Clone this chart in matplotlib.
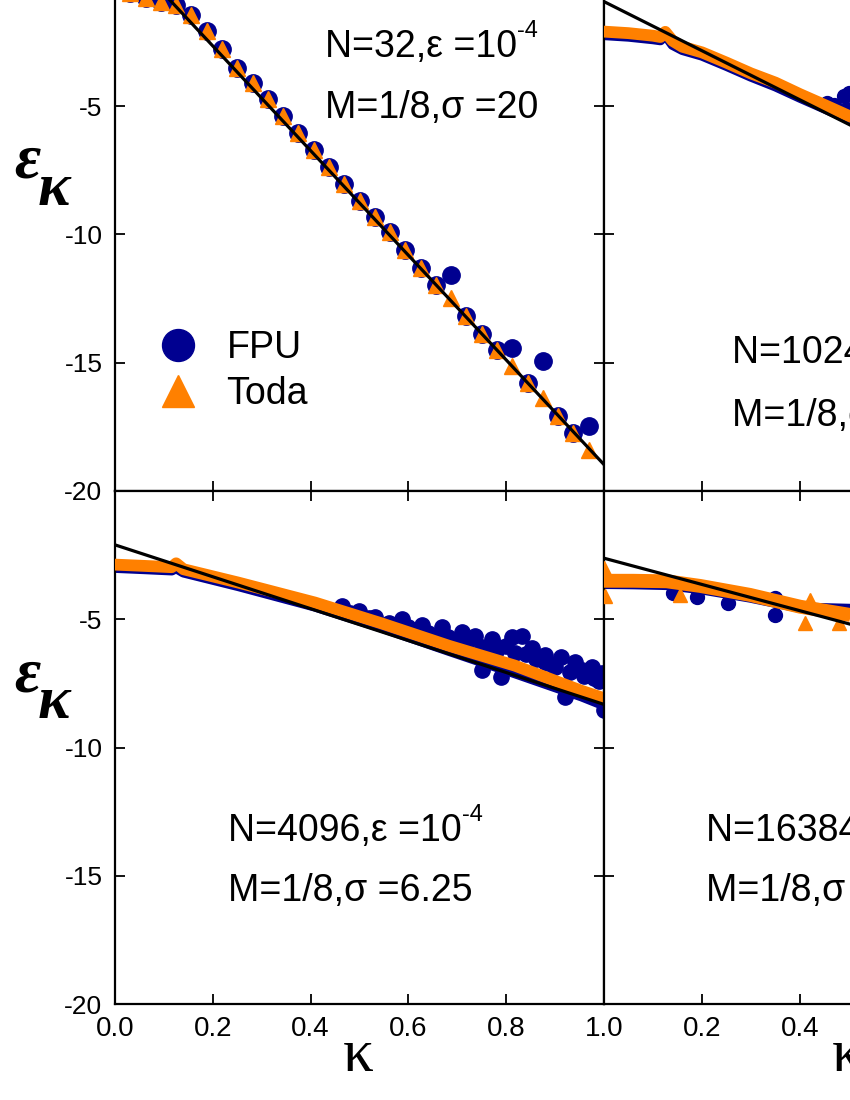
import matplotlib.pyplot as plt
from matplotlib.lines import Line2D

plt.rcParams['font.family'] = ['Liberation Sans', 'DejaVu Sans']
plt.rcParams['axes.unicode_minus'] = False

navy = '#000090'
orange = '#FF8000'

# ---- N=32 panel (modes k/32) ----
k32 = [i / 32 for i in range(1, 32)]
toda32 = [-0.6, -0.78, -0.92, -1.05, -1.44, -2.05, -2.77, -3.5, -4.08, -4.72,
          -5.37, -6.04, -6.7, -7.35, -8.02, -8.68, -9.33, -9.9, -10.6, -11.3,
          -11.95, -12.48, -13.18, -13.88, -14.52, -15.13, -15.8, -16.38, -17.06,
          -17.72, -18.4]
fpu32 = [-0.6, -0.78, -0.92, -1.05, -1.44, -2.05, -2.77, -3.5, -4.08, -4.72,
         -5.37, -6.04, -6.7, -7.35, -8.02, -8.68, -9.33, -9.9, -10.6, -11.3,
         -11.95, -11.58, -13.18, -13.88, -14.52, -14.43, -15.8, -14.93, -17.06,
         -17.72, -17.47]
fit32 = [1.43, -18.97]

# ---- N=1024 panel ----
k1024 = [0.0, 0.05, 0.10, 0.115, 0.125, 0.14, 0.16, 0.20, 0.25, 0.30, 0.35,
         0.40, 0.45, 0.50, 0.52]
toda1024 = [-2.09, -2.15, -2.25, -2.3, -2.1, -2.45, -2.68, -2.9, -3.3, -3.72,
            -4.08, -4.53, -4.95, -5.38, -5.55]
fpu1024 = [-2.22, -2.28, -2.38, -2.42, -2.2, -2.6, -2.8, -3.02, -3.42, -3.84,
           -4.22, -4.66, -5.08, -5.5, -5.67]
fpu1024_k_out = [0.455, 0.47, 0.49, 0.495, 0.50]
fpu1024_v_out = [-4.87, -4.95, -4.6, -5.1, -4.5]
fit1024 = [-0.92, -10.5]

# ---- N=4096 panel ----
k4096 = [0.0, 0.06, 0.116, 0.125, 0.14, 0.252, 0.409, 0.545, 0.682, 0.818,
         0.954, 1.0]
toda4096 = [-2.87, -2.92, -2.97, -2.82, -3.05, -3.57, -4.35, -5.16, -6.03,
            -6.81, -7.79, -8.08]
fpu4096 = [-2.99, -3.04, -3.09, -3.0, -3.17, -3.7, -4.5, -5.32, -6.22, -7.1,
           -8.0, -8.35]
fpu4096_k_out = [0.4635, 0.498, 0.532, 0.586, 0.613, 0.627, 0.668, 0.682,
                 0.709, 0.736, 0.75, 0.77, 0.784, 0.811, 0.818, 0.832, 0.852,
                 0.879, 0.886, 0.913, 0.941, 0.954, 0.975, 0.995, 0.75, 0.79,
                 0.92, 1.0,
                 0.48, 0.52, 0.56, 0.60, 0.64, 0.66, 0.70, 0.72, 0.76, 0.78,
                 0.80, 0.84, 0.86, 0.88, 0.90, 0.93, 0.96, 0.98, 0.99, 0.97]
fpu4096_v_out = [-4.48, -4.67, -4.9, -5.0, -5.42, -5.22, -5.31, -5.68, -5.48,
                 -5.65, -6.07, -5.78, -6.07, -5.7, -6.33, -5.65, -6.13, -6.39,
                 -6.72, -6.46, -6.65, -6.98, -6.85, -7.11, -6.98, -7.24, -8.02,
                 -8.54,
                 -4.75, -4.95, -5.15, -5.3, -5.55, -5.6, -5.8, -5.9, -6.15,
                 -6.25, -6.05, -6.35, -6.55, -6.65, -6.85, -7.05, -7.2, -7.3,
                 -7.4, -7.0]
fit4096 = [-2.1, -8.32]

# ---- N=16384 panel ----
k16384 = [0.0, 0.012, 0.06, 0.128, 0.196, 0.298, 0.40, 0.502, 0.52]
toda16384 = [-3.5, -3.5, -3.5, -3.52, -3.7, -4.05, -4.51, -4.83, -4.92]
fpu16384 = [-3.62, -3.62, -3.63, -3.66, -3.82, -4.15, -4.55, -4.6, -4.7]
toda16384_k_out = [0.0, 0.003, 0.155, 0.41, 0.42, 0.48]
toda16384_v_out = [-3.0, -4.1, -4.05, -5.16, -4.25, -5.16]
fpu16384_k_out = [0.141, 0.189, 0.254, 0.349, 0.349]
fpu16384_v_out = [-3.99, -4.12, -4.35, -4.18, -4.83]
fit16384 = [-2.62, -7.74]

texts = {
    'tl': ('N=32,\u03b5 =10', 'M=1/8,\u03c3 =20'),
    'tr': ('N=1024,\u03b5 =10', 'M=1/8,\u03c3 =10'),
    'bl': ('N=4096,\u03b5 =10', 'M=1/8,\u03c3 =6.25'),
    'br': ('N=16384,\u03b5 =10', 'M=1/8,\u03c3 =5'),
}

fig = plt.figure(figsize=(8.5, 11), dpi=100)
W, H = 850, 1100


def box(x0, y0, x1, y1):
    return [x0 / W, 1 - y1 / H, (x1 - x0) / W, (y1 - y0) / H]


ax_tl = fig.add_axes(box(115, -22, 604, 491))
ax_tr = fig.add_axes(box(604, -22, 1094, 491))
ax_bl = fig.add_axes(box(115, 491, 604, 1004))
ax_br = fig.add_axes(box(604, 491, 1094, 1004))

xt = [0.0, 0.2, 0.4, 0.6, 0.8, 1.0]
yt = [-20, -15, -10, -5, 0]

for ax, name in [(ax_tl, 'tl'), (ax_tr, 'tr'), (ax_bl, 'bl'), (ax_br, 'br')]:
    ax.set_xlim(0, 1)
    ax.set_ylim(-20, 0)
    ax.set_xticks(xt)
    ax.set_yticks(yt)
    ax.tick_params(direction='in', top=True, right=True, length=7, width=1.3,
                   labelsize=19, pad=9)
    for s in ax.spines.values():
        s.set_linewidth(1.6)
    if name in ('tl', 'bl'):
        ax.set_yticklabels(['-20', '-15', '-10', '-5', ''])
    else:
        ax.set_yticklabels([])
    if name == 'bl':
        ax.set_xticklabels(['0.0', '0.2', '0.4', '0.6', '0.8', '1.0'], fontsize=20)
    elif name == 'br':
        ax.set_xticklabels(['', '0.2', '0.4', '0.6', '0.8', '1.0'], fontsize=20)
    else:
        ax.set_xticklabels([])

# top-left: N=32
ax_tl.plot(k32, fpu32, 'o', color=navy, ms=12.5, zorder=2)
ax_tl.plot(k32, toda32, '^', color=orange, ms=12, zorder=3)
ax_tl.plot([0, 1], fit32, color='black', lw=2.3, zorder=4)

# top-right: N=1024
ax_tr.plot(k1024, fpu1024, '-', color=navy, lw=7.5, solid_capstyle='round', zorder=2)
ax_tr.plot(fpu1024_k_out, fpu1024_v_out, 'o', color=navy, ms=10, zorder=2)
ax_tr.plot(k1024, toda1024, '-', color=orange, lw=8.5, solid_capstyle='round', zorder=3)
ax_tr.plot([0, 1], fit1024, color='black', lw=2.3, zorder=4)

# bottom-left: N=4096
ax_bl.plot(k4096, fpu4096, '-', color=navy, lw=7.5, solid_capstyle='round', zorder=2)
ax_bl.plot(fpu4096_k_out, fpu4096_v_out, 'o', color=navy, ms=11, zorder=2)
ax_bl.plot(k4096, toda4096, '-', color=orange, lw=8.5, solid_capstyle='round', zorder=3)
ax_bl.plot([0, 1], fit4096, color='black', lw=2.3, zorder=4)

# bottom-right: N=16384
ax_br.plot(k16384, fpu16384, '-', color=navy, lw=7.5, solid_capstyle='round', zorder=2)
ax_br.plot(fpu16384_k_out, fpu16384_v_out, 'o', color=navy, ms=10, zorder=2)
ax_br.plot(k16384, toda16384, '-', color=orange, lw=10, solid_capstyle='butt', zorder=3)
ax_br.plot(toda16384_k_out, toda16384_v_out, '^', color=orange, ms=10, zorder=3)
ax_br.plot([0, 1], fit16384, color='black', lw=2.3, zorder=4)

# annotations
pos = {'tl': (ax_tl, 0.429, -3.07, -5.47),
       'tr': (ax_tr, 0.261, -15.02, -17.47),
       'bl': (ax_bl, 0.231, -13.63, -16.0),
       'br': (ax_br, 0.208, -13.63, -16.0)}
for name, (ax, x, y1, y2) in pos.items():
    l1, l2 = texts[name]
    t = ax.text(x, y1, l1, fontsize=27, va='baseline', ha='left', zorder=5)
    ax.annotate('-4', xy=(1.0, 0.62), xycoords=t, fontsize=17,
                va='bottom', ha='left')
    ax.text(x, y2, l2, fontsize=27, va='baseline', ha='left', zorder=5)

# legend
handles = [Line2D([], [], marker='o', ls='none', color=navy, ms=23),
           Line2D([], [], marker='^', ls='none', color=orange, ms=23)]
ax_tl.legend(handles, ['FPU', 'Toda'], loc='center left',
             bbox_to_anchor=(0.09, 0.234), frameon=False, fontsize=27,
             handlelength=1.0, handletextpad=0.8, borderpad=0,
             labelspacing=0.25, borderaxespad=0)

# axis labels
serif = ['Liberation Serif', 'DejaVu Serif']
for dy in (0, 513):
    fig.text(27 / W, 1 - (163 + dy) / H, '\u03b5', fontsize=46, fontfamily=serif,
             fontweight='bold', fontstyle='italic', ha='center', va='center')
    fig.text(54 / W, 1 - (190 + dy) / H, '\u03ba', fontsize=44, fontfamily=serif,
             fontweight='bold', fontstyle='italic', ha='center', va='center')
for cx in (358, 847):
    fig.text(cx / W, 1 - 1056 / H, '\u03ba', fontsize=44, fontfamily=serif,
             ha='center', va='center')

fig.savefig('out.png', dpi=100)
